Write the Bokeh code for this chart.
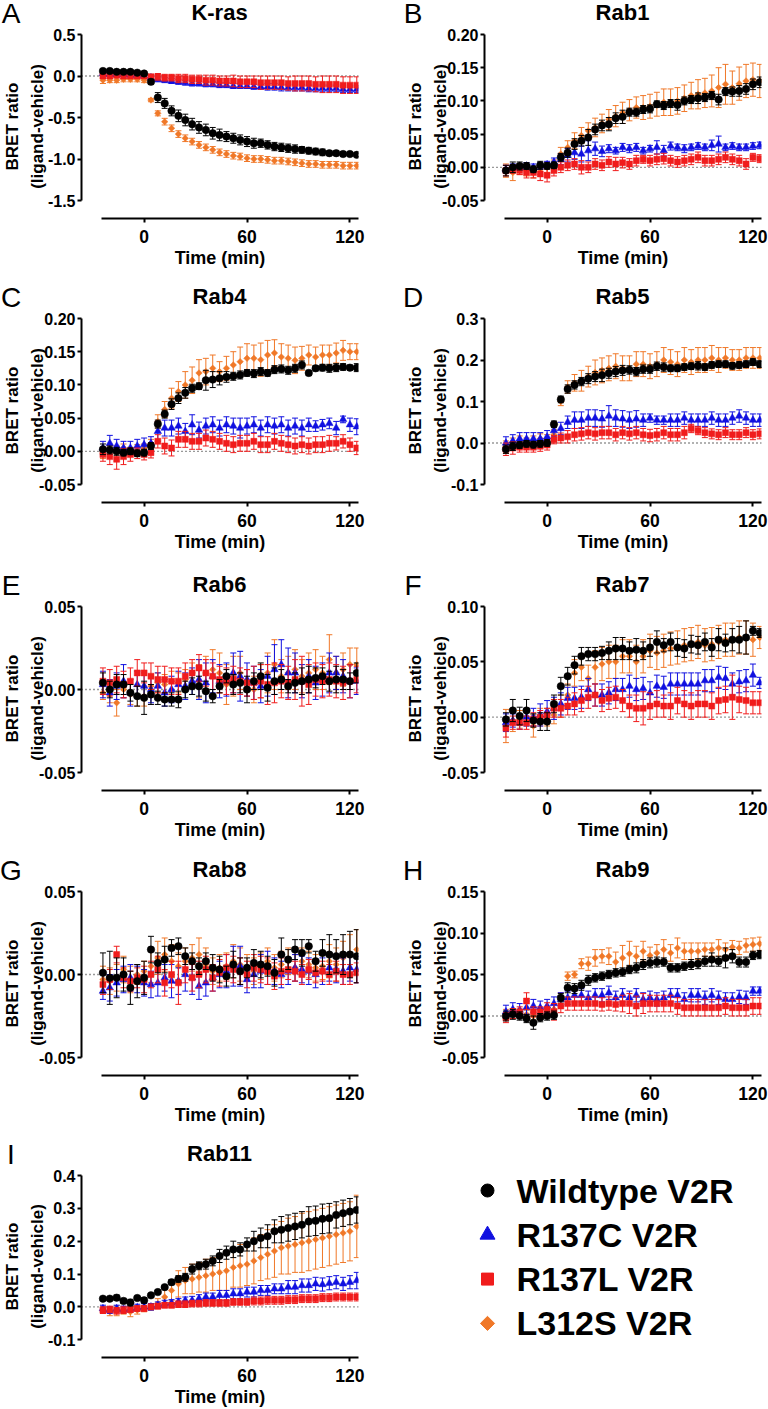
import math
from bokeh.plotting import figure
from bokeh.layouts import column, row
from bokeh.models import Range1d, FixedTicker, NumeralTickFormatter, Span, ColumnDataSource, Div
from bokeh.embed import file_html
from bokeh.resources import INLINE
from bokeh.core.properties import value

FONT = "Liberation Sans"

# time points (min)
TIME = [-24, -20, -16, -12, -8, -4, 0,
        4, 8, 12, 16, 20, 24, 28, 32, 36, 40,
        44, 48, 52, 56, 60, 64, 68, 72, 76, 80,
        84, 88, 92, 96, 100, 104, 108, 112, 116, 120, 124]
X_TICKS = [0, 60, 120]

SERIES_NAMES = ["Wildtype V2R", "R137C V2R", "R137L V2R", "L312S V2R"]
SERIES_COLORS = ["#000000", "#1010e0", "#f01c1c", "#f07828"]

# ---------------- K-ras ----------------
KRAS_WT = [0.06,0.06,0.05,0.05,0.05,0.04,0.03, -0.07,-0.26,-0.33,-0.42,-0.48,-0.53,-0.58,-0.62,-0.65,-0.69, -0.71,-0.73,-0.75,-0.77,-0.79,-0.81,-0.81,-0.83,-0.85,-0.86, -0.87,-0.88,-0.89,-0.90,-0.91,-0.92,-0.93,-0.93,-0.94,-0.94,-0.95]
KRAS_WT_E = [0.02,0.02,0.02,0.02,0.02,0.02,0.02, 0.03,0.06,0.06,0.06,0.07,0.07,0.07,0.07,0.07,0.07, 0.07,0.06,0.06,0.06,0.06,0.06,0.05,0.05,0.05,0.05, 0.05,0.05,0.04,0.04,0.04,0.04,0.03,0.03,0.03,0.02,0.02]
KRAS_R137C = [0.03,0.02,0.02,0.02,0.01,0.01,0.0, -0.02,-0.04,-0.05,-0.06,-0.07,-0.08,-0.09,-0.09,-0.10,-0.10, -0.11,-0.11,-0.12,-0.12,-0.12,-0.13,-0.13,-0.13,-0.13,-0.14, -0.14,-0.14,-0.14,-0.15,-0.15,-0.15,-0.15,-0.15,-0.16,-0.16,-0.16]
KRAS_R137C_E = [0.02,0.02,0.02,0.02,0.02,0.02,0.02, 0.02,0.03,0.03,0.03,0.03,0.03,0.03,0.03,0.03,0.03, 0.03,0.03,0.03,0.03,0.03,0.03,0.03,0.04,0.04,0.04, 0.04,0.04,0.04,0.04,0.04,0.04,0.04,0.04,0.04,0.04,0.04]
KRAS_R137L = [0.0,0.0,0.01,0.0,0.0,0.0,0.0, -0.01,-0.01,-0.02,-0.02,-0.03,-0.03,-0.04,-0.04,-0.05,-0.05, -0.06,-0.06,-0.06,-0.07,-0.07,-0.07,-0.08,-0.08,-0.08,-0.08, -0.09,-0.09,-0.09,-0.09,-0.10,-0.10,-0.10,-0.10,-0.11,-0.11,-0.11]
KRAS_R137L_E = [0.03,0.03,0.03,0.03,0.03,0.03,0.03, 0.03,0.04,0.04,0.04,0.05,0.05,0.05,0.05,0.06,0.06, 0.06,0.06,0.07,0.07,0.07,0.07,0.08,0.08,0.08,0.08, 0.08,0.09,0.09,0.09,0.09,0.10,0.10,0.10,0.10,0.10,0.10]
KRAS_L312S = [-0.05,-0.05,-0.05,-0.04,-0.04,-0.04,-0.05, -0.29,-0.45,-0.55,-0.63,-0.70,-0.75,-0.79,-0.83,-0.86,-0.89, -0.92,-0.94,-0.96,-0.97,-0.99,-1.00,-1.00,-1.01,-1.02,-1.02, -1.03,-1.04,-1.05,-1.06,-1.06,-1.07,-1.07,-1.07,-1.08,-1.08,-1.08]
KRAS_L312S_E = [0.04,0.03,0.03,0.03,0.03,0.03,0.03, 0.02,0.03,0.04,0.04,0.04,0.04,0.04,0.04,0.04,0.04, 0.04,0.04,0.04,0.04,0.04,0.04,0.04,0.04,0.04,0.04, 0.04,0.04,0.04,0.04,0.04,0.04,0.04,0.04,0.04,0.04,0.04]
KRAS_TICKS = [-1.5, -1.0, -0.5, 0.0, 0.5]

# ---------------- Rab1 ----------------
RAB1_WT = [-0.005,0.0,0.002,0.002,-0.003,0.003,0.002, 0.003,0.015,0.022,0.035,0.04,0.045,0.057,0.063,0.065,0.074, 0.076,0.083,0.083,0.087,0.088,0.095,0.093,0.096,0.094,0.10, 0.102,0.104,0.105,0.108,0.102,0.114,0.114,0.115,0.118,0.125,0.128]
RAB1_WT_E = [0.008,0.008,0.006,0.005,0.005,0.006,0.005, 0.005,0.006,0.007,0.008,0.008,0.012,0.008,0.008,0.01,0.008, 0.01,0.006,0.006,0.006,0.006,0.005,0.006,0.006,0.008,0.006, 0.006,0.008,0.006,0.006,0.008,0.006,0.007,0.008,0.008,0.008,0.008]
RAB1_R137C = [-0.003,0.0,0.0,0.002,0.0,0.002,0.004, 0.008,0.012,0.018,0.022,0.02,0.025,0.028,0.024,0.028,0.025, 0.03,0.028,0.03,0.025,0.028,0.03,0.025,0.032,0.03,0.028, 0.03,0.032,0.03,0.033,0.035,0.03,0.032,0.03,0.03,0.032,0.033]
RAB1_R137C_E = [0.006,0.005,0.005,0.005,0.005,0.005,0.005, 0.006,0.008,0.01,0.01,0.012,0.015,0.01,0.008,0.006,0.005, 0.006,0.006,0.006,0.005,0.005,0.01,0.008,0.006,0.005,0.006, 0.005,0.005,0.005,0.008,0.012,0.005,0.005,0.005,0.005,0.005,0.005]
RAB1_R137L = [-0.005,-0.003,-0.005,-0.008,-0.008,-0.01,-0.012, -0.005,0.0,0.003,0.005,0.0,0.0,0.005,0.003,0.008,0.005, 0.007,0.005,0.01,0.012,0.01,0.012,0.013,0.01,0.008,0.01, 0.012,0.015,0.01,0.01,0.012,0.015,0.012,0.01,0.005,0.015,0.013]
RAB1_R137L_E = [0.008,0.006,0.006,0.008,0.008,0.01,0.01, 0.008,0.008,0.008,0.008,0.01,0.008,0.008,0.008,0.008,0.01, 0.008,0.008,0.008,0.006,0.008,0.008,0.008,0.008,0.008,0.008, 0.008,0.008,0.008,0.008,0.008,0.008,0.008,0.008,0.008,0.006,0.006]
RAB1_L312S = [-0.005,-0.008,-0.003,-0.005,-0.008,-0.003,0.0, 0.005,0.02,0.03,0.04,0.048,0.055,0.06,0.066,0.072,0.077, 0.082,0.086,0.09,0.09,0.092,0.095,0.098,0.098,0.10,0.104, 0.108,0.11,0.112,0.115,0.12,0.125,0.12,0.126,0.13,0.132,0.13]
RAB1_L312S_E = [0.01,0.012,0.008,0.008,0.008,0.008,0.008, 0.006,0.01,0.01,0.012,0.012,0.012,0.014,0.014,0.015,0.016, 0.016,0.016,0.016,0.018,0.018,0.018,0.02,0.02,0.02,0.02, 0.02,0.022,0.022,0.024,0.03,0.03,0.025,0.025,0.025,0.025,0.025]
RAB1_TICKS = [-0.05, 0.0, 0.05, 0.10, 0.15, 0.20]

# ---------------- Rab4 ----------------
RAB4_WT = [0.003,0.002,0.0,-0.002,0.0,-0.003,-0.002, 0.008,0.041,0.056,0.071,0.08,0.088,0.095,0.098,0.107,0.108, 0.11,0.112,0.113,0.115,0.118,0.117,0.12,0.118,0.123,0.124, 0.122,0.125,0.13,0.118,0.125,0.126,0.125,0.126,0.127,0.126,0.126]
RAB4_WT_E = [0.008,0.006,0.006,0.005,0.005,0.005,0.005, 0.005,0.006,0.006,0.008,0.008,0.008,0.006,0.005,0.015,0.012, 0.01,0.008,0.006,0.006,0.005,0.006,0.006,0.005,0.006,0.006, 0.006,0.006,0.006,0.004,0.004,0.005,0.006,0.006,0.005,0.004,0.006]
RAB4_R137C = [0.005,0.012,0.008,0.005,0.005,0.008,0.01, 0.012,0.03,0.035,0.035,0.038,0.03,0.04,0.032,0.038,0.04, 0.035,0.04,0.038,0.035,0.038,0.04,0.035,0.04,0.038,0.04, 0.035,0.038,0.035,0.04,0.038,0.04,0.042,0.035,0.048,0.04,0.037]
RAB4_R137C_E = [0.01,0.012,0.01,0.01,0.01,0.01,0.01, 0.01,0.015,0.012,0.012,0.012,0.012,0.015,0.012,0.012,0.012, 0.012,0.012,0.012,0.015,0.012,0.012,0.012,0.012,0.012,0.012, 0.012,0.012,0.012,0.01,0.008,0.008,0.008,0.01,0.005,0.01,0.012]
RAB4_R137L = [-0.005,-0.008,-0.012,-0.008,-0.005,-0.003,-0.005, -0.002,0.015,0.008,0.005,0.018,0.018,0.015,0.015,0.02,0.018, 0.015,0.012,0.01,0.012,0.012,0.015,0.01,0.01,0.015,0.012, 0.01,0.008,0.01,0.008,0.01,0.01,0.012,0.012,0.015,0.01,0.005]
RAB4_R137L_E = [0.01,0.012,0.015,0.012,0.01,0.008,0.008, 0.008,0.01,0.012,0.012,0.012,0.012,0.012,0.012,0.012,0.012, 0.012,0.012,0.012,0.012,0.012,0.012,0.012,0.012,0.012,0.012, 0.012,0.012,0.012,0.012,0.012,0.012,0.012,0.01,0.01,0.01,0.01]
RAB4_L312S = [-0.003,0.0,0.002,0.005,0.0,0.002,0.005, 0.012,0.045,0.063,0.08,0.09,0.1,0.107,0.118,0.12,0.125, 0.12,0.125,0.13,0.135,0.14,0.14,0.138,0.145,0.148,0.142, 0.14,0.137,0.14,0.145,0.142,0.145,0.145,0.148,0.152,0.15,0.15]
RAB4_L312S_E = [0.008,0.008,0.006,0.006,0.006,0.008,0.006, 0.006,0.01,0.012,0.015,0.015,0.02,0.02,0.02,0.02,0.02, 0.015,0.018,0.02,0.022,0.022,0.02,0.025,0.022,0.02,0.02, 0.02,0.02,0.018,0.015,0.015,0.015,0.015,0.015,0.015,0.012,0.012]
RAB4_TICKS = [-0.05, 0.0, 0.05, 0.10, 0.15, 0.20]

# ---------------- Rab5 ----------------
RAB5_WT = [-0.015,-0.008,-0.005,-0.002,-0.004,-0.002,0.0, 0.045,0.105,0.13,0.14,0.148,0.155,0.16,0.163,0.168,0.172, 0.175,0.176,0.172,0.178,0.178,0.185,0.183,0.18,0.18,0.183, 0.185,0.186,0.183,0.188,0.19,0.19,0.186,0.188,0.19,0.195,0.19]
RAB5_WT_E = [0.01,0.01,0.008,0.008,0.008,0.008,0.008, 0.008,0.008,0.01,0.01,0.01,0.012,0.012,0.015,0.012,0.012, 0.012,0.01,0.01,0.01,0.01,0.01,0.01,0.008,0.008,0.008, 0.008,0.01,0.008,0.008,0.008,0.008,0.008,0.008,0.008,0.008,0.008]
RAB5_R137C = [0.0,0.005,0.01,0.01,0.01,0.01,0.015, 0.03,0.035,0.05,0.055,0.055,0.06,0.06,0.058,0.065,0.06, 0.058,0.055,0.058,0.055,0.06,0.055,0.055,0.055,0.055,0.06, 0.055,0.055,0.055,0.06,0.055,0.055,0.06,0.065,0.06,0.055,0.055]
RAB5_R137C_E = [0.015,0.015,0.015,0.015,0.015,0.015,0.015, 0.015,0.015,0.015,0.02,0.02,0.02,0.02,0.02,0.025,0.02, 0.02,0.02,0.02,0.015,0.01,0.01,0.01,0.015,0.015,0.015, 0.015,0.015,0.015,0.015,0.015,0.015,0.015,0.015,0.015,0.015,0.015]
RAB5_R137L = [-0.015,-0.012,-0.01,-0.01,-0.01,-0.008,-0.005, 0.008,0.012,0.015,0.02,0.022,0.025,0.022,0.025,0.025,0.02, 0.025,0.022,0.025,0.02,0.018,0.02,0.025,0.02,0.02,0.025, 0.035,0.03,0.025,0.022,0.02,0.025,0.02,0.02,0.025,0.02,0.022]
RAB5_R137L_E = [0.015,0.015,0.012,0.012,0.012,0.012,0.012, 0.01,0.012,0.015,0.015,0.015,0.015,0.015,0.015,0.015,0.015, 0.015,0.015,0.015,0.015,0.015,0.015,0.015,0.015,0.015,0.015, 0.01,0.01,0.012,0.012,0.012,0.012,0.012,0.012,0.012,0.012,0.012]
RAB5_L312S = [-0.01,0.0,0.005,0.0,0.005,0.01,0.01, 0.02,0.1,0.135,0.145,0.15,0.16,0.17,0.175,0.18,0.185, 0.18,0.18,0.19,0.19,0.185,0.19,0.2,0.195,0.19,0.2, 0.195,0.2,0.2,0.205,0.2,0.205,0.2,0.2,0.205,0.205,0.205]
RAB5_L312S_E = [0.015,0.012,0.012,0.012,0.012,0.012,0.01, 0.012,0.01,0.015,0.02,0.025,0.025,0.03,0.03,0.03,0.03, 0.03,0.03,0.03,0.03,0.03,0.03,0.03,0.03,0.03,0.03, 0.03,0.03,0.03,0.03,0.03,0.025,0.025,0.025,0.025,0.025,0.025]
RAB5_TICKS = [-0.1, 0.0, 0.1, 0.2, 0.3]

# ---------------- Rab6 ----------------
RAB6_WT = [0.004,0.0,0.003,0.003,-0.002,-0.004,-0.005, -0.003,-0.005,-0.006,-0.006,-0.006,0.0,0.002,0.002,-0.001,-0.004, 0.002,0.008,0.003,0.004,0.0,0.005,0.008,0.001,0.005,0.006, 0.002,0.004,0.005,0.006,0.007,0.008,0.005,0.006,0.006,0.005,0.01]
RAB6_WT_E = [0.006,0.005,0.006,0.006,0.005,0.006,0.01, 0.006,0.004,0.004,0.004,0.005,0.005,0.005,0.006,0.006,0.004, 0.004,0.004,0.006,0.006,0.008,0.005,0.008,0.008,0.008,0.006, 0.004,0.006,0.008,0.008,0.006,0.005,0.006,0.008,0.006,0.005,0.006]
RAB6_R137C = [0.003,-0.002,0.002,0.005,-0.002,0.003,0.002, 0.0,0.002,-0.002,0.0,0.003,0.002,0.005,0.006,0.004,0.008, 0.005,0.006,0.01,0.008,0.006,0.004,0.002,0.008,0.012,0.015, 0.01,0.01,0.005,0.008,0.004,0.006,0.01,0.01,0.008,0.005,0.005]
RAB6_R137C_E = [0.008,0.008,0.008,0.01,0.008,0.008,0.008, 0.008,0.008,0.008,0.008,0.008,0.008,0.008,0.012,0.012,0.01, 0.01,0.01,0.012,0.015,0.01,0.01,0.01,0.012,0.015,0.015, 0.015,0.012,0.01,0.01,0.01,0.01,0.012,0.01,0.01,0.01,0.008]
RAB6_R137L = [0.005,0.004,0.006,0.003,0.005,0.01,0.01, 0.008,0.006,0.006,0.005,0.005,0.008,0.01,0.013,0.01,0.008, 0.006,0.005,0.006,0.005,0.004,0.004,0.005,0.003,0.004,0.005, 0.004,0.006,0.005,0.003,0.006,0.005,0.006,0.005,0.004,0.005,0.006]
RAB6_R137L_E = [0.008,0.008,0.008,0.008,0.008,0.008,0.006, 0.008,0.008,0.008,0.008,0.008,0.008,0.008,0.008,0.008,0.008, 0.008,0.008,0.008,0.008,0.008,0.01,0.01,0.012,0.012,0.01, 0.01,0.012,0.015,0.012,0.01,0.01,0.01,0.01,0.01,0.01,0.008]
RAB6_L312S = [-0.002,-0.003,-0.008,0.0,-0.003,-0.004,-0.004, 0.002,0.004,0.003,0.005,0.004,0.006,0.01,0.005,0.01,0.012, 0.01,0.003,0.008,0.01,0.004,0.0,0.005,0.01,0.015,0.008, 0.01,0.012,0.008,0.01,0.012,0.01,0.018,0.01,0.012,0.015,0.015]
RAB6_L312S_E = [0.004,0.005,0.008,0.005,0.006,0.006,0.006, 0.006,0.006,0.006,0.006,0.006,0.006,0.006,0.01,0.01,0.012, 0.012,0.012,0.012,0.01,0.008,0.008,0.01,0.012,0.015,0.01, 0.01,0.012,0.01,0.012,0.012,0.01,0.015,0.01,0.01,0.01,0.01]
RAB6_TICKS = [-0.05, 0.0, 0.05]

# ---------------- Rab7 ----------------
RAB7_WT = [-0.002,0.006,0.001,0.006,-0.003,-0.004,-0.004, 0.012,0.028,0.037,0.047,0.055,0.057,0.057,0.058,0.06,0.062, 0.062,0.06,0.061,0.06,0.063,0.068,0.065,0.068,0.063,0.062, 0.066,0.065,0.068,0.063,0.07,0.067,0.07,0.07,0.072,0.078,0.076]
RAB7_WT_E = [0.006,0.01,0.008,0.01,0.006,0.008,0.008, 0.008,0.008,0.008,0.008,0.008,0.006,0.006,0.006,0.008,0.01, 0.01,0.008,0.01,0.008,0.008,0.01,0.006,0.008,0.008,0.008, 0.008,0.008,0.008,0.008,0.01,0.008,0.01,0.012,0.015,0.004,0.004]
RAB7_R137C = [-0.005,-0.003,-0.005,0.0,0.0,0.002,0.005, 0.008,0.012,0.017,0.017,0.018,0.025,0.02,0.02,0.022,0.025, 0.025,0.028,0.025,0.026,0.022,0.028,0.027,0.03,0.03,0.03, 0.03,0.03,0.033,0.033,0.036,0.035,0.03,0.032,0.033,0.038,0.031]
RAB7_R137C_E = [0.008,0.006,0.006,0.008,0.008,0.01,0.01, 0.01,0.01,0.01,0.01,0.01,0.01,0.01,0.01,0.01,0.01, 0.01,0.01,0.01,0.01,0.01,0.01,0.01,0.01,0.01,0.01, 0.01,0.01,0.01,0.01,0.01,0.01,0.01,0.01,0.01,0.01,0.005]
RAB7_R137L = [-0.01,-0.005,-0.005,-0.005,-0.002,0.0,0.002, 0.008,0.008,0.01,0.012,0.015,0.018,0.02,0.015,0.017,0.018, 0.015,0.01,0.008,0.008,0.01,0.012,0.01,0.01,0.015,0.012, 0.01,0.012,0.012,0.01,0.015,0.016,0.018,0.016,0.015,0.013,0.013]
RAB7_R137L_E = [0.008,0.006,0.006,0.006,0.006,0.006,0.006, 0.008,0.008,0.008,0.01,0.01,0.01,0.01,0.01,0.01,0.01, 0.01,0.01,0.012,0.015,0.012,0.012,0.01,0.012,0.012,0.012, 0.012,0.012,0.012,0.012,0.012,0.012,0.02,0.012,0.012,0.01,0.01]
RAB7_L312S = [-0.008,-0.003,-0.002,0.0,-0.008,0.0,0.0, 0.002,0.01,0.02,0.04,0.045,0.035,0.045,0.048,0.05,0.05, 0.055,0.055,0.05,0.055,0.06,0.058,0.06,0.062,0.063,0.065, 0.066,0.068,0.065,0.066,0.068,0.07,0.07,0.072,0.072,0.07,0.072]
RAB7_L312S_E = [0.015,0.01,0.008,0.008,0.01,0.008,0.008, 0.008,0.01,0.01,0.012,0.012,0.012,0.015,0.015,0.015,0.015, 0.015,0.015,0.015,0.015,0.015,0.015,0.015,0.015,0.015,0.015, 0.015,0.015,0.015,0.015,0.015,0.015,0.015,0.015,0.015,0.015,0.01]
RAB7_TICKS = [-0.05, 0.0, 0.05, 0.10]

# ---------------- Rab8 ----------------
RAB8_WT = [0.001,-0.002,-0.002,0.0,-0.008,-0.004,-0.002, 0.015,0.007,0.009,0.016,0.017,0.011,0.008,0.005,0.008,0.004, 0.003,-0.001,0.006,0.002,0.004,0.007,0.006,0.005,0.001,0.012, 0.009,0.015,0.013,0.017,0.008,0.013,0.012,0.011,0.012,0.012,0.011]
RAB8_WT_E = [0.012,0.016,0.012,0.01,0.01,0.01,0.01, 0.008,0.006,0.008,0.005,0.005,0.005,0.005,0.005,0.005,0.008, 0.008,0.006,0.008,0.008,0.006,0.008,0.008,0.006,0.008,0.01, 0.006,0.006,0.008,0.004,0.006,0.008,0.012,0.01,0.012,0.014,0.016]
RAB8_R137C = [-0.01,-0.008,-0.005,-0.003,-0.002,-0.003,-0.005, -0.006,-0.005,-0.002,-0.004,-0.004,0.0,-0.002,-0.007,-0.005,-0.002, 0.0,0.002,0.005,0.005,-0.003,0.0,0.002,0.004,0.002,0.0, 0.002,0.004,0.003,0.002,0.0,0.002,0.004,0.003,0.002,0.004,0.003]
RAB8_R137C_E = [0.005,0.008,0.008,0.008,0.008,0.008,0.008, 0.008,0.008,0.008,0.01,0.008,0.01,0.01,0.008,0.008,0.008, 0.008,0.01,0.012,0.012,0.008,0.008,0.01,0.01,0.008,0.008, 0.008,0.008,0.008,0.008,0.008,0.008,0.008,0.008,0.008,0.008,0.008]
RAB8_R137L = [-0.006,-0.003,0.012,-0.002,-0.004,-0.002,-0.003, 0.0,0.003,-0.005,0.0,-0.005,0.003,-0.002,0.0,0.003,-0.002, 0.001,0.004,0.003,0.002,0.0,0.004,0.003,0.002,-0.001,0.002, 0.003,0.002,0.0,0.003,0.001,0.002,0.0,0.002,0.0,0.0,0.001]
RAB8_R137L_E = [0.006,0.006,0.005,0.006,0.006,0.006,0.008, 0.008,0.008,0.008,0.008,0.013,0.008,0.008,0.008,0.008,0.008, 0.008,0.008,0.008,0.008,0.008,0.008,0.008,0.008,0.008,0.008, 0.006,0.006,0.006,0.006,0.006,0.006,0.006,0.006,0.006,0.006,0.006]
RAB8_L312S = [-0.003,-0.004,-0.002,0.003,-0.003,0.0,0.002, 0.005,0.01,0.012,0.008,0.005,0.008,0.01,0.012,0.006,0.002, 0.004,0.005,0.008,0.006,0.004,0.002,0.005,0.008,0.004,0.006, 0.008,0.004,0.008,0.006,0.004,0.005,0.008,0.006,0.01,0.012,0.015]
RAB8_L312S_E = [0.008,0.008,0.008,0.008,0.008,0.006,0.006, 0.01,0.01,0.01,0.01,0.008,0.008,0.008,0.01,0.01,0.008, 0.008,0.008,0.01,0.01,0.008,0.008,0.008,0.008,0.008,0.008, 0.008,0.008,0.008,0.008,0.008,0.008,0.01,0.01,0.01,0.012,0.012]
RAB8_TICKS = [-0.05, 0.0, 0.05]

# ---------------- Rab9 ----------------
RAB9_WT = [0.0,0.002,0.0,-0.003,-0.008,-0.002,0.0, 0.001,0.022,0.034,0.033,0.037,0.043,0.046,0.048,0.05,0.052, 0.053,0.056,0.058,0.062,0.064,0.065,0.065,0.058,0.058,0.06, 0.062,0.063,0.066,0.068,0.066,0.07,0.072,0.065,0.065,0.073,0.074]
RAB9_WT_E = [0.006,0.006,0.005,0.005,0.008,0.005,0.005, 0.005,0.005,0.006,0.006,0.006,0.006,0.005,0.005,0.005,0.005, 0.005,0.005,0.006,0.006,0.006,0.006,0.005,0.005,0.005,0.005, 0.006,0.006,0.006,0.008,0.006,0.012,0.008,0.006,0.006,0.005,0.005]
RAB9_R137C = [0.005,0.008,0.007,0.01,0.012,0.01,0.012, 0.015,0.02,0.022,0.025,0.025,0.022,0.025,0.025,0.028,0.022, 0.025,0.022,0.025,0.02,0.022,0.02,0.022,0.025,0.025,0.02, 0.025,0.025,0.022,0.025,0.022,0.02,0.02,0.023,0.022,0.03,0.03]
RAB9_R137C_E = [0.008,0.008,0.008,0.008,0.008,0.008,0.008, 0.008,0.008,0.008,0.008,0.008,0.008,0.008,0.008,0.008,0.008, 0.008,0.008,0.008,0.008,0.008,0.008,0.008,0.008,0.008,0.008, 0.008,0.008,0.008,0.008,0.008,0.008,0.008,0.008,0.008,0.005,0.005]
RAB9_R137L = [-0.002,0.003,0.005,0.018,0.005,0.005,0.008, 0.005,0.012,0.015,0.015,0.015,0.015,0.015,0.014,0.015,0.014, 0.015,0.015,0.012,0.015,0.015,0.015,0.015,0.015,0.012,0.01, 0.01,0.01,0.01,0.01,0.01,0.012,0.01,0.01,0.01,0.012,0.012]
RAB9_R137L_E = [0.006,0.006,0.006,0.01,0.006,0.006,0.008, 0.01,0.008,0.008,0.008,0.008,0.008,0.008,0.008,0.008,0.008, 0.01,0.012,0.012,0.012,0.01,0.01,0.01,0.01,0.01,0.01, 0.01,0.01,0.01,0.01,0.01,0.01,0.01,0.01,0.01,0.01,0.01]
RAB9_L312S = [0.002,0.003,0.003,0.002,0.0,0.002,0.004, 0.008,0.02,0.048,0.05,0.063,0.063,0.07,0.072,0.072,0.065, 0.07,0.075,0.072,0.078,0.073,0.076,0.08,0.076,0.082,0.078, 0.078,0.078,0.08,0.08,0.082,0.08,0.083,0.082,0.085,0.086,0.087]
RAB9_L312S_E = [0.006,0.006,0.005,0.005,0.005,0.005,0.005, 0.006,0.008,0.005,0.004,0.006,0.008,0.01,0.008,0.01,0.012, 0.015,0.015,0.012,0.012,0.01,0.01,0.012,0.01,0.012,0.01, 0.01,0.01,0.008,0.008,0.01,0.008,0.008,0.008,0.008,0.008,0.008]
RAB9_TICKS = [-0.05, 0.0, 0.05, 0.10, 0.15]

# ---------------- Rab11 ----------------
RAB11_WT = [0.025,0.025,0.028,0.018,0.013,0.027,0.02, 0.035,0.045,0.06,0.075,0.085,0.09,0.115,0.125,0.13,0.14, 0.155,0.165,0.175,0.175,0.19,0.2,0.21,0.215,0.23,0.235, 0.24,0.245,0.25,0.26,0.262,0.268,0.27,0.28,0.285,0.29,0.295]
RAB11_WT_E = [0.005,0.005,0.008,0.008,0.01,0.005,0.008, 0.005,0.005,0.005,0.008,0.01,0.012,0.015,0.012,0.015,0.015, 0.02,0.02,0.025,0.02,0.02,0.03,0.03,0.035,0.035,0.04, 0.04,0.04,0.04,0.045,0.045,0.045,0.045,0.04,0.04,0.04,0.04]
RAB11_R137C = [-0.005,-0.01,-0.005,-0.008,-0.005,-0.002,0.0, 0.0,0.005,0.01,0.012,0.015,0.02,0.02,0.025,0.03,0.03, 0.035,0.035,0.04,0.04,0.045,0.045,0.05,0.05,0.055,0.055, 0.06,0.06,0.065,0.065,0.07,0.068,0.072,0.075,0.07,0.075,0.08]
RAB11_R137C_E = [0.01,0.01,0.01,0.01,0.01,0.01,0.01, 0.01,0.01,0.01,0.01,0.01,0.01,0.012,0.012,0.012,0.012, 0.015,0.015,0.015,0.015,0.015,0.015,0.015,0.015,0.015,0.015, 0.02,0.02,0.02,0.02,0.02,0.02,0.02,0.02,0.02,0.02,0.025]
RAB11_R137L = [-0.01,-0.008,-0.012,-0.01,-0.008,-0.005,-0.005, 0.0,0.002,0.005,0.005,0.008,0.008,0.01,0.01,0.012,0.012, 0.012,0.012,0.015,0.015,0.015,0.018,0.018,0.02,0.02,0.02, 0.022,0.022,0.025,0.025,0.025,0.028,0.028,0.03,0.03,0.03,0.03]
RAB11_R137L_E = [0.01,0.01,0.01,0.01,0.008,0.008,0.008, 0.008,0.008,0.008,0.008,0.01,0.01,0.01,0.01,0.01,0.01, 0.01,0.01,0.01,0.01,0.01,0.012,0.012,0.012,0.012,0.012, 0.012,0.012,0.012,0.012,0.012,0.012,0.012,0.012,0.012,0.012,0.012]
RAB11_L312S = [-0.01,-0.015,-0.012,-0.01,-0.015,-0.01,-0.005, 0.0,0.01,0.03,0.05,0.07,0.08,0.085,0.09,0.095,0.1, 0.105,0.11,0.12,0.125,0.13,0.14,0.15,0.16,0.17,0.18, 0.185,0.19,0.195,0.2,0.205,0.21,0.215,0.22,0.225,0.23,0.245]
RAB11_L312S_E = [0.01,0.012,0.015,0.012,0.015,0.012,0.01, 0.01,0.015,0.025,0.03,0.04,0.04,0.045,0.045,0.05,0.05, 0.055,0.06,0.06,0.065,0.065,0.07,0.07,0.075,0.08,0.08, 0.085,0.085,0.09,0.09,0.09,0.09,0.09,0.09,0.09,0.09,0.095]
RAB11_TICKS = [-0.1, 0.0, 0.1, 0.2, 0.3, 0.4]

# panel table built from the arrays above (series order = SERIES_NAMES)
PANELS = [
    ("A", "K-ras", [(KRAS_WT, KRAS_WT_E), (KRAS_R137C, KRAS_R137C_E), (KRAS_R137L, KRAS_R137L_E), (KRAS_L312S, KRAS_L312S_E)], KRAS_TICKS, "0.0"),
    ("B", "Rab1", [(RAB1_WT, RAB1_WT_E), (RAB1_R137C, RAB1_R137C_E), (RAB1_R137L, RAB1_R137L_E), (RAB1_L312S, RAB1_L312S_E)], RAB1_TICKS, "0.00"),
    ("C", "Rab4", [(RAB4_WT, RAB4_WT_E), (RAB4_R137C, RAB4_R137C_E), (RAB4_R137L, RAB4_R137L_E), (RAB4_L312S, RAB4_L312S_E)], RAB4_TICKS, "0.00"),
    ("D", "Rab5", [(RAB5_WT, RAB5_WT_E), (RAB5_R137C, RAB5_R137C_E), (RAB5_R137L, RAB5_R137L_E), (RAB5_L312S, RAB5_L312S_E)], RAB5_TICKS, "0.0"),
    ("E", "Rab6", [(RAB6_WT, RAB6_WT_E), (RAB6_R137C, RAB6_R137C_E), (RAB6_R137L, RAB6_R137L_E), (RAB6_L312S, RAB6_L312S_E)], RAB6_TICKS, "0.00"),
    ("F", "Rab7", [(RAB7_WT, RAB7_WT_E), (RAB7_R137C, RAB7_R137C_E), (RAB7_R137L, RAB7_R137L_E), (RAB7_L312S, RAB7_L312S_E)], RAB7_TICKS, "0.00"),
    ("G", "Rab8", [(RAB8_WT, RAB8_WT_E), (RAB8_R137C, RAB8_R137C_E), (RAB8_R137L, RAB8_R137L_E), (RAB8_L312S, RAB8_L312S_E)], RAB8_TICKS, "0.00"),
    ("H", "Rab9", [(RAB9_WT, RAB9_WT_E), (RAB9_R137C, RAB9_R137C_E), (RAB9_R137L, RAB9_R137L_E), (RAB9_L312S, RAB9_L312S_E)], RAB9_TICKS, "0.00"),
    ("I", "Rab11", [(RAB11_WT, RAB11_WT_E), (RAB11_R137C, RAB11_R137C_E), (RAB11_R137L, RAB11_R137L_E), (RAB11_L312S, RAB11_L312S_E)], RAB11_TICKS, "0.0"),
]

MARKERS = ["circle", "triangle", "square", "square"]
MARKER_ANGLES = [0, 0, 0, math.pi / 4]
MARKER_SIZES = [7.5, 7.5, 6, 4.6]
DRAW_ORDER = [3, 1, 2, 0]

HEADER_H = 24
TOP_B = 10
FRAME_H = 184
ROW_PITCH = [284, 288, 285, 284, 268]
COL_W = [402, 366]
COL_LEFT = [81, 82]
COL_RIGHT = [44, 7]
LETTER_X = 11


def style_axis(ax, size):
    ax.axis_line_width = 2
    ax.axis_line_color = "black"
    ax.major_tick_line_width = 2
    ax.major_tick_line_color = "black"
    ax.major_tick_out = 4
    ax.major_tick_in = 0
    ax.minor_tick_line_color = None
    ax.major_label_text_font = FONT
    ax.major_label_text_font_style = "bold"
    ax.major_label_text_font_size = size
    ax.major_label_text_color = "black"
    ax.axis_label_text_font = FONT
    ax.axis_label_text_font_style = "bold"
    ax.axis_label_text_color = "black"


def make_header(letter, title, col):
    w = COL_W[col]
    fw = w - COL_LEFT[col] - COL_RIGHT[col]
    tx = COL_LEFT[col] + fw / 2
    html = (
        f'<div style="position:relative;width:{w}px;height:{HEADER_H}px;'
        f"font-family:'Liberation Sans',Arial,sans-serif;color:#000;\">"
        f'<span style="position:absolute;left:{LETTER_X}px;top:14px;transform:translate(-50%,-50%);'
        f'font-size:28px;font-weight:normal;line-height:1;white-space:nowrap;">{letter}</span>'
        f'<span style="position:absolute;left:{tx}px;top:13px;transform:translate(-50%,-50%);'
        f'font-size:22px;font-weight:bold;line-height:1;white-space:nowrap;">{title}</span>'
        f'</div>'
    )
    return Div(text=html, width=w, height=HEADER_H, margin=(0, 0, 0, 0))


def make_panel(data, ticks, fmt, col, height):
    ybot, ytop = min(ticks), max(ticks)
    span = ytop - ybot
    gap = span * 18 / 166
    p = figure(width=COL_W[col], height=height, title=None,
               x_range=Range1d(-36.5, 125), y_range=Range1d(ybot - gap, ytop),
               min_border_left=COL_LEFT[col], min_border_right=COL_RIGHT[col],
               min_border_top=TOP_B, min_border_bottom=height - TOP_B - FRAME_H,
               output_backend="svg", toolbar_location=None, tools="")
    p.outline_line_color = None
    p.xgrid.visible = False
    p.ygrid.visible = False
    style_axis(p.xaxis[0], "17.5px")
    style_axis(p.yaxis[0], "16px")
    p.xaxis.ticker = FixedTicker(ticks=X_TICKS)
    p.xaxis.bounds = (-25, 125)
    p.xaxis.major_label_standoff = 7
    p.xaxis.formatter = NumeralTickFormatter(format="0")
    p.xaxis.axis_label = "Time (min)"
    p.xaxis.axis_label_text_font_size = "18px"
    p.xaxis.axis_label_standoff = 2
    p.yaxis.ticker = FixedTicker(ticks=ticks)
    p.yaxis.bounds = (ybot, ytop)
    p.yaxis.formatter = NumeralTickFormatter(format=fmt)
    p.yaxis.major_label_standoff = 2
    p.yaxis.axis_label = "BRET ratio\n(ligand-vehicle)"
    p.yaxis.axis_label_text_font_size = "17px"
    p.yaxis.axis_label_text_line_height = 1.3
    p.yaxis.axis_label_standoff = -2 if fmt == "0.0" else -11

    zero = Span(location=0, dimension="width", line_color="#333333", line_width=1.3, line_dash="1 3")
    zero.level = "underlay"
    p.add_layout(zero)

    for si in DRAW_ORDER:
        y, e = data[si]
        c = SERIES_COLORS[si]
        src = ColumnDataSource(dict(t=TIME, y=y,
                                    lo=[a - b for a, b in zip(y, e)],
                                    hi=[a + b for a, b in zip(y, e)]))
        p.segment(x0="t", y0="lo", x1="t", y1="hi", source=src, line_color=c, line_width=1)
        p.scatter(x="t", y="lo", marker="dash", size=6, line_color=c, line_width=1, source=src)
        p.scatter(x="t", y="hi", marker="dash", size=6, line_color=c, line_width=1, source=src)
        p.scatter(x="t", y="y", marker=MARKERS[si], angle=MARKER_ANGLES[si], size=MARKER_SIZES[si],
                  fill_color=c, line_color=c, line_width=0.5, source=src)
    return p


def make_legend(height):
    w = COL_W[1]
    pitch = 44.3
    top_center = 49
    y_end = -top_center / pitch
    y_start = y_end + height / pitch
    p = figure(width=w, height=height, min_border=0, title=None,
               x_range=Range1d(0, w), y_range=Range1d(y_start, y_end),
               x_axis_location=None, y_axis_location=None,
               output_backend="svg", toolbar_location=None, tools="")
    p.outline_line_color = None
    p.xgrid.visible = False
    p.ygrid.visible = False
    rows_idx = list(range(len(SERIES_NAMES)))
    src = ColumnDataSource(dict(row=rows_idx, name=SERIES_NAMES, color=SERIES_COLORS,
                                marker=MARKERS, angle=MARKER_ANGLES, size=[13, 15, 12, 10],
                                mx=[85] * len(rows_idx), tx=[114] * len(rows_idx)))
    p.scatter(x="mx", y="row", marker="marker", angle="angle", size="size",
              fill_color="color", line_color="color", source=src)
    p.text(x="tx", y="row", text="name", text_font=value(FONT), text_font_style="bold",
           text_font_size="34px", text_baseline="middle", text_color="black", source=src)
    return p


cells = []
for i, (letter, title, data, ticks, fmt) in enumerate(PANELS):
    r = i // 2
    col = i % 2
    hdr = make_header(letter, title, col)
    pnl = make_panel(data, ticks, fmt, col, ROW_PITCH[r] - HEADER_H)
    cells.append(column(hdr, pnl))
cells.append(make_legend(ROW_PITCH[4]))

layout = column(*[row(cells[2 * k], cells[2 * k + 1]) for k in range(5)])

with open("out.html", "w") as f:
    f.write(file_html(layout, INLINE))
